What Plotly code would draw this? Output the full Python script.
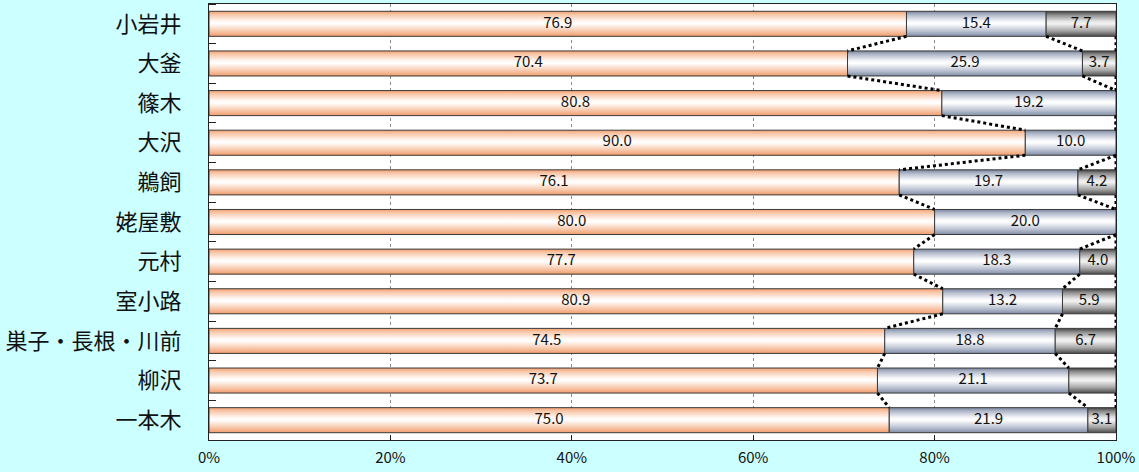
import plotly.graph_objects as go

# Share (%) of each response per district, top row first
districts = ["小岩井", "大釜", "篠木", "大沢", "鵜飼", "姥屋敷", "元村", "室小路",
             "巣子・長根・川前", "柳沢", "一本木"]
share_a = [76.9, 70.4, 80.8, 90.0, 76.1, 80.0, 77.7, 80.9, 74.5, 73.7, 75.0]
share_b = [15.4, 25.9, 19.2, 10.0, 19.7, 20.0, 18.3, 13.2, 18.8, 21.1, 21.9]
share_c = [7.7, 3.7, 0.0, 0.0, 4.2, 0.0, 4.0, 5.9, 6.7, 5.2, 3.1]
# segments whose value is not printed
unlabeled = {("柳沢", 2)}

x_ticks = [0, 20, 40, 60, 80, 100]
x_ticktext = ["0%", "20%", "40%", "60%", "80%", "100%"]

series = [share_a, share_b, share_c]
scales = [
    [[0, "#F09C6C"], [0.18, "#F7C2A2"], [0.5, "#FFFFFF"], [0.6, "#FFF8F4"],
     [0.86, "#F8C8AA"], [1, "#F2A072"]],
    [[0, "#808CA5"], [0.2, "#B8C0D0"], [0.5, "#FFFFFF"], [0.6, "#F6F7FA"],
     [0.86, "#B0B8C9"], [1, "#7A869E"]],
    [[0, "#4A4A4A"], [0.22, "#A4A4A4"], [0.5, "#F2F2F2"], [0.6, "#E6E6E6"],
     [0.86, "#8A8A8A"], [1, "#404040"]],
]

half = 0.316
fig = go.Figure()

# stacked bars, each segment filled with a vertical gradient
for i, name in enumerate(districts):
    left = 0.0
    y0, y1 = i - half, i + half
    for k, vals in enumerate(series):
        v = vals[i]
        if v <= 0:
            continue
        right = left + v
        fig.add_trace(go.Scatter(
            x=[left, right, right, left, left],
            y=[y0, y0, y1, y1, y0],
            mode="lines", fill="toself",
            line=dict(color="#3A3A3A", width=1),
            fillgradient=dict(type="vertical", colorscale=scales[k]),
            hoverinfo="skip", showlegend=False,
        ))
        left = right

# value labels centred in each segment
for k, vals in enumerate(series):
    xs, ys, txt = [], [], []
    for i, name in enumerate(districts):
        v = vals[i]
        if v <= 0 or (name, k) in unlabeled:
            continue
        start = sum(series[j][i] for j in range(k))
        xs.append(start + v / 2)
        ys.append(i)
        txt.append(f"{v:.1f}")
    fig.add_trace(go.Scatter(
        x=xs, y=ys, text=txt, mode="text",
        textfont=dict(family="Noto Sans CJK JP", size=15, color="#111111"),
        hoverinfo="skip", showlegend=False, cliponaxis=False,
    ))

# dotted connectors between segment boundaries of adjacent bars
def bounds(i):
    a = share_a[i]
    b = a + share_b[i]
    return [a, b, 100.0]

cx, cy = [], []
for i in range(len(districts) - 1):
    top, bot = bounds(i), bounds(i + 1)
    for p, q in zip(top, bot):
        cx += [p, q, None]
        cy += [i + half, i + 1 - half, None]
fig.add_trace(go.Scatter(
    x=cx, y=cy, mode="lines",
    line=dict(color="#000000", width=3, dash="3px,3px"),
    hoverinfo="skip", showlegend=False, cliponaxis=False,
))

fig.update_layout(
    width=1139, height=472,
    margin=dict(l=209, r=23, t=4, b=32),
    paper_bgcolor="#CCFFFF", plot_bgcolor="#FFFFFF",
    showlegend=False,
    xaxis=dict(
        range=[0, 100], tickmode="array", tickvals=x_ticks, ticktext=x_ticktext,
        showgrid=True, gridcolor="#8A8A8A", griddash="dot", gridwidth=1,
        ticks="inside", ticklen=5, tickcolor="#222222",
        showline=True, linecolor="#222222", linewidth=1, mirror=True,
        zeroline=False, fixedrange=True, ticklabelstandoff=4,
        tickfont=dict(family="Noto Sans CJK JP", size=15, color="#111111"),
    ),
    yaxis=dict(
        range=[len(districts) - 0.5, -0.5],
        tickvals=list(range(len(districts))), ticktext=districts,
        ticks="", showgrid=False, zeroline=False,
        showline=True, linecolor="#222222", linewidth=1, mirror=True,
        ticklabelstandoff=22,
        minor=dict(tickvals=[i + 0.5 for i in range(-1, len(districts))],
                   ticks="inside", ticklen=7, tickcolor="#222222", showgrid=False),
        tickfont=dict(family="Noto Sans CJK JP", size=22, color="#111111"),
        fixedrange=True,
    ),
)

fig.write_html("out.html")
